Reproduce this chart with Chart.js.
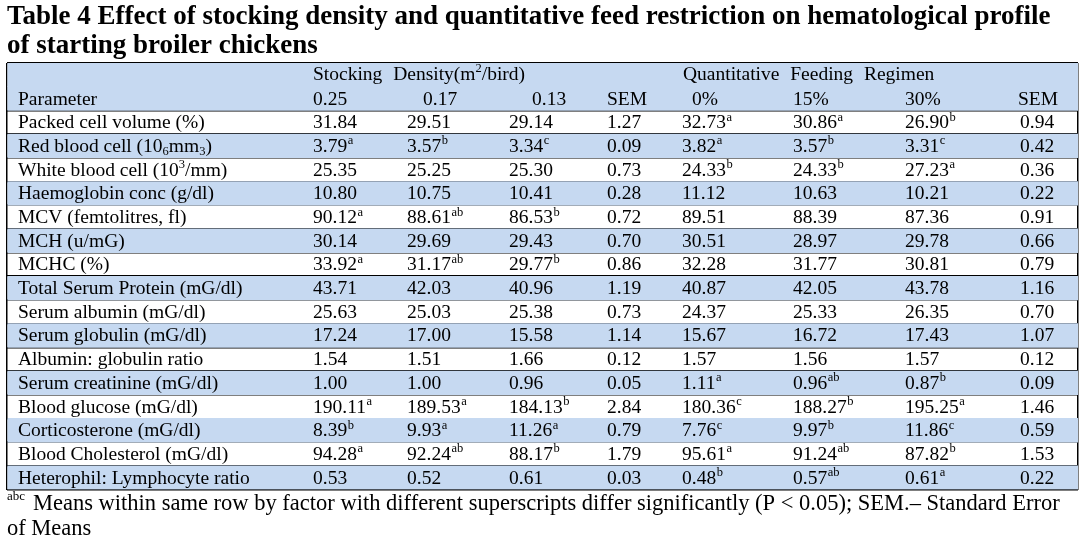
<!DOCTYPE html>
<html>
<head>
<meta charset="utf-8">
<title>Table 4 Effect of stocking density and quantitative feed restriction on hematological profile</title>
<script src="https://cdn.jsdelivr.net/npm/chart.js"></script>
<style>
  html, body { margin: 0; padding: 0; background: #fff; }
  #wrap { width: 1087px; height: 550px; }
</style>
</head>
<body>
<div id="wrap"><canvas id="tableChart"></canvas></div>
<script>
// ---- table data ----
var titleLines = [
  'Table 4 Effect of stocking density and quantitative feed restriction on hematological profile',
  'of starting broiler chickens'
];
var groupHeaders = ['Stocking Density(m^{2}/bird)', 'Quantitative Feeding Regimen'];
var columnHeaders = ['Parameter', '0.25', '0.17', '0.13', 'SEM', ' 0%', '15%', '30%', 'SEM'];

var parameters = [
  'Packed cell volume (%)',
  'Red blood cell (10_{6}mm_{3})',
  'White blood cell (10^{3}/mm)',
  'Haemoglobin conc (g/dl)',
  'MCV (femtolitres, fl)',
  'MCH (u/mG)',
  'MCHC (%)',
  'Total Serum Protein (mG/dl)',
  'Serum albumin (mG/dl)',
  'Serum globulin (mG/dl)',
  'Albumin: globulin ratio',
  'Serum creatinine (mG/dl)',
  'Blood glucose (mG/dl)',
  'Corticosterone (mG/dl)',
  'Blood Cholesterol (mG/dl)',
  'Heterophil: Lymphocyte ratio'
];

// stocking density (m2/bird)
var sd025 = [31.84, 3.79, 25.35, 10.80, 90.12, 30.14, 33.92, 43.71, 25.63, 17.24, 1.54, 1.00, 190.11, 8.39, 94.28, 0.53];
var sd017 = [29.51, 3.57, 25.25, 10.75, 88.61, 29.69, 31.17, 42.03, 25.03, 17.00, 1.51, 1.00, 189.53, 9.93, 92.24, 0.52];
var sd013 = [29.14, 3.34, 25.30, 10.41, 86.53, 29.43, 29.77, 40.96, 25.38, 15.58, 1.66, 0.96, 184.13, 11.26, 88.17, 0.61];
var semSD = [1.27, 0.09, 0.73, 0.28, 0.72, 0.70, 0.86, 1.19, 0.73, 1.14, 0.12, 0.05, 2.84, 0.79, 1.79, 0.03];
// quantitative feeding regimen
var qf0   = [32.73, 3.82, 24.33, 11.12, 89.51, 30.51, 32.28, 40.87, 24.37, 15.67, 1.57, 1.11, 180.36, 7.76, 95.61, 0.48];
var qf15  = [30.86, 3.57, 24.33, 10.63, 88.39, 28.97, 31.77, 42.05, 25.33, 16.72, 1.56, 0.96, 188.27, 9.97, 91.24, 0.57];
var qf30  = [26.90, 3.31, 27.23, 10.21, 87.36, 29.78, 30.81, 43.78, 26.35, 17.43, 1.57, 0.87, 195.25, 11.86, 87.82, 0.61];
var semQF = [0.94, 0.42, 0.36, 0.22, 0.91, 0.66, 0.79, 1.16, 0.70, 1.07, 0.12, 0.09, 1.46, 0.59, 1.53, 0.22];

// superscript letters (significance)
var sd025Sup = ['', 'a', '', '', 'a', '', 'a', '', '', '', '', '', 'a', 'b', 'a', ''];
var sd017Sup = ['', 'b', '', '', 'ab', '', 'ab', '', '', '', '', '', 'a', 'a', 'ab', ''];
var sd013Sup = ['', 'c', '', '', 'b', '', 'b', '', '', '', '', '', 'b', 'a', 'b', ''];
var qf0Sup   = ['a', 'a', 'b', '', '', '', '', '', '', '', '', 'a', 'c', 'c', 'a', 'b'];
var qf15Sup  = ['a', 'b', 'b', '', '', '', '', '', '', '', '', 'ab', 'b', 'b', 'ab', 'ab'];
var qf30Sup  = ['b', 'c', 'a', '', '', '', '', '', '', '', '', 'b', 'a', 'c', 'b', 'a'];

var footLines = [
  'Means within same row by factor with different superscripts differ significantly (P < 0.05); SEM.\u2013 Standard Error',
  'of Means'
];
var footSup = 'abc';

// ---- layout / style ----
var TABLE_W = 1071;
var colX  = [11, 306, 400, 502, 600, 675, 786, 898, 1013];   // cell text starts
var headX = [11, 306, 416, 525, 600, 680, 786, 898, 1011];   // header text starts
var groupX = [306, 676];
var SERIF = '"Liberation Serif", "Times New Roman", serif';
var BODY_FONT = '19.5px ' + SERIF;
var SMALL_FONT = '12.5px ' + SERIF;
var FOOT_FONT = '22.5px ' + SERIF;
var BLUE = '#c6d9f1';
var BASE = 6;

var columns = [
  { values: sd025, sup: sd025Sup },
  { values: sd017, sup: sd017Sup },
  { values: sd013, sup: sd013Sup },
  { values: semSD },
  { values: qf0, sup: qf0Sup },
  { values: qf15, sup: qf15Sup },
  { values: qf30, sup: qf30Sup },
  { values: semQF }
];

var rowKeys = ['group', 'columns'].concat(parameters);
function shaded(i) { return i < 2 || (i - 2) % 2 === 1; }

// draws text with ^{sup} and _{sub} parts
function drawRich(ctx, str, x, y, font, wordGap) {
  var parts = str.split(/(\^\{[^}]*\}|_\{[^}]*\})/);
  parts.forEach(function (p) {
    if (!p) return;
    if (p[0] === '^' || p[0] === '_') {
      var t = p.slice(2, -1);
      ctx.font = SMALL_FONT;
      ctx.fillText(t, x, p[0] === '^' ? y - 8 : y + 3);
      x += ctx.measureText(t).width;
      return;
    }
    ctx.font = font;
    if (!wordGap) {
      ctx.fillText(p, x, y);
      x += ctx.measureText(p).width;
      return;
    }
    var words = p.split(' ');
    words.forEach(function (w, k) {
      ctx.fillText(w, x, y);
      x += ctx.measureText(w).width;
      if (k < words.length - 1) x += ctx.measureText(' ').width + wordGap;
    });
  });
  return x;
}

var tableText = {
  id: 'tableText',
  afterDraw: function (chart) {
    var ctx = chart.ctx, xs = chart.scales.x, ys = chart.scales.y;
    ctx.save();
    ctx.fillStyle = '#000';
    ctx.textAlign = 'left';
    ctx.textBaseline = 'alphabetic';

    groupHeaders.forEach(function (t, i) {
      drawRich(ctx, t, xs.getPixelForValue(groupX[i]), ys.getPixelForValue(0) + BASE - 0.5, BODY_FONT, 6);
    });
    columnHeaders.forEach(function (t, i) {
      drawRich(ctx, t, xs.getPixelForValue(headX[i]), ys.getPixelForValue(1) + BASE, BODY_FONT, 0);
    });

    parameters.forEach(function (p, r) {
      var y = ys.getPixelForValue(r + 2) + BASE;
      drawRich(ctx, p, xs.getPixelForValue(colX[0]), y, BODY_FONT, 0);
      columns.forEach(function (col, c) {
        var x = xs.getPixelForValue(colX[c + 1]);
        var txt = col.values[r].toFixed(2);
        ctx.font = BODY_FONT;
        ctx.fillText(txt, x, y);
        if (col.sup && col.sup[r]) {
          var w = ctx.measureText(txt).width;
          ctx.font = SMALL_FONT;
          ctx.fillText(col.sup[r], x + w + 0.5, y - 7.5);
        }
      });
    });

    // footnote
    var fy = chart.chartArea.bottom + 20.5;
    ctx.font = '13px ' + SERIF;
    ctx.fillText(footSup, 7, fy - 10);
    ctx.font = FOOT_FONT;
    ctx.fillText(footLines[0], 33, fy);
    ctx.fillText(footLines[1], 7, fy + 25);
    ctx.restore();
  }
};

var ctx = document.getElementById('tableChart').getContext('2d');
var chart = new Chart(ctx, {
  type: 'bar',
  data: {
    labels: rowKeys,
    datasets: [{
      label: 'row shading',
      data: rowKeys.map(function (k, i) { return shaded(i) ? [0, TABLE_W] : null; }),
      backgroundColor: BLUE,
      borderWidth: 0,
      barPercentage: 1,
      categoryPercentage: 1
    }]
  },
  options: {
    indexAxis: 'y',
    responsive: true,
    maintainAspectRatio: false,
    animation: false,
    events: [],
    layout: { padding: { left: 7, right: 9, top: 0, bottom: 60.5 } },
    plugins: {
      legend: { display: false },
      tooltip: { enabled: false },
      title: {
        display: true,
        align: 'start',
        text: titleLines,
        color: '#000',
        font: { family: SERIF, size: 27, weight: 'bold', lineHeight: 1.074 },
        padding: { top: 2.5, bottom: 2.5 }
      }
    },
    scales: {
      x: {
        type: 'linear',
        min: 0,
        max: TABLE_W,
        z: 1,
        afterBuildTicks: function (s) { s.ticks = [{ value: 0 }, { value: TABLE_W }]; },
        ticks: { display: false },
        grid: { color: '#000', lineWidth: 1.5, drawTicks: false },
        border: { display: false }
      },
      y: {
        type: 'category',
        offset: true,
        z: 1,
        ticks: { display: false },
        grid: {
          offset: true,
          drawTicks: false,
          lineWidth: 1.5,
          color: function (c) { return c.index === 1 ? 'rgba(0,0,0,0)' : '#000'; }
        },
        border: { display: false }
      }
    }
  },
  plugins: [tableText]
});
</script>
</body>
</html>
